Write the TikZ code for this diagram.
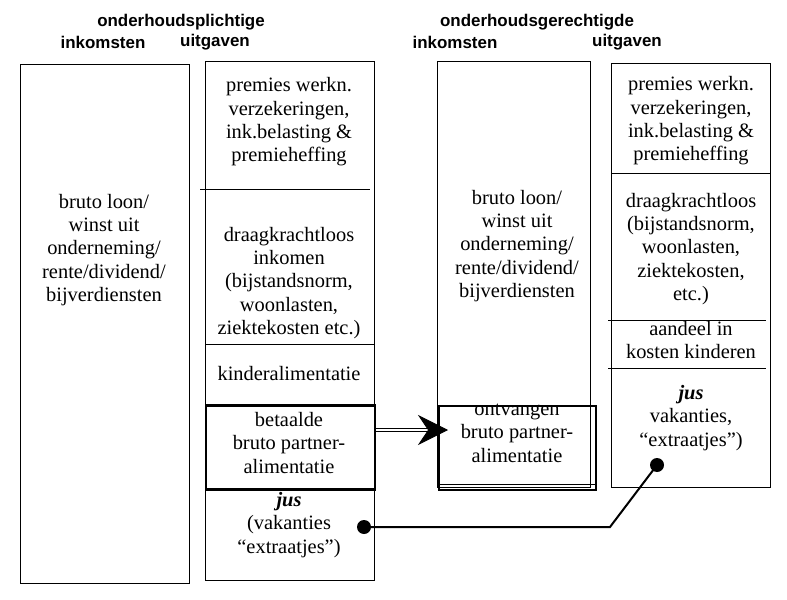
\documentclass[tikz,border=0pt]{standalone}
\usepackage{fontspec}
\setmainfont{Liberation Serif}
\setsansfont{Liberation Sans}
\usetikzlibrary{arrows.meta}

\begin{document}
\begin{tikzpicture}[x=1bp,y=-1bp,line width=1bp,
    txt/.style={align=center,inner sep=0pt,font=\fontsize{20.5}{23.5}\selectfont},
    kop/.style={inner sep=0pt,font=\sffamily\bfseries\fontsize{17}{19}\selectfont},
    dot/.style={circle,fill=black,inner sep=0pt,minimum size=14bp}]
  \useasboundingbox (0,0) rectangle (787,600);
  % kopjes
  \node[kop] (H1) at (181,22) {onderhoudsplichtige};
  \node[kop] (H2) at (103,42) {inkomsten};
  \node[kop] (H3) at (215,42) {uitgaven};
  \node[kop] (H4) at (537,22) {onderhoudsgerechtigde};
  \node[kop] (H5) at (455,42) {inkomsten};
  \node[kop] (H6) at (627,42) {uitgaven};
  % kolommen
  \draw (20,65) rectangle (189,583);
  \draw (205,62) rectangle (374,580);
  \draw (437,62) rectangle (590,487);
  \draw (611,64) rectangle (770,487);
  \draw (200,190) -- (370,190);
  \draw (205,344) -- (374,344);
  \draw (612,174) -- (770,174);
  \draw (608,320) -- (766,320);
  \draw (608,368) -- (766,368);
  % onderhoudsplichtige
  \node[txt] (A1) at (104,250) {bruto loon/\\winst uit\\onderneming/\\rente/dividend/\\bijverdiensten};
  \node[txt] (A2) at (289,122) {premies werkn.\\verzekeringen,\\ink.belasting \&\\premieheffing};
  \node[txt] (A3) at (289,283) {draagkrachtloos\\inkomen\\(bijstandsnorm,\\woonlasten,\\ziektekosten etc.)};
  \node[txt] (A4) at (289,374) {kinderalimentatie};
  \node[txt] (A5) at (289,443) {betaalde\\bruto partner-\\alimentatie};
  \node[txt] (A6) at (289,525) {\textbf{\textit{jus}}\\(vakanties\\``extraatjes'')};
  \node[draw,line width=2.2bp,minimum width=169bp,minimum height=84bp,inner sep=0pt] (B) at (290.5,447.5) {};
  % onderhoudsgerechtigde
  \node[txt] (C1) at (517,246) {bruto loon/\\winst uit\\onderneming/\\rente/dividend/\\bijverdiensten};
  \node[txt] (C2) at (517,433) {ontvangen\\bruto partner-\\alimentatie};
  \node[draw,line width=2bp,minimum width=157bp,minimum height=84bp,inner sep=0pt] (O) at (517,447.5) {};
  \draw (438,484) -- (596,484);
  \node[txt] (D1) at (691,121) {premies werkn.\\verzekeringen,\\ink.belasting \&\\premieheffing};
  \node[txt] (D2) at (691,249) {draagkrachtloos\\(bijstandsnorm,\\woonlasten,\\ziektekosten,\\etc.)};
  \node[txt] (D3) at (691,340) {aandeel in\\kosten kinderen};
  \node[txt] (D4) at (691,418) {\textbf{\textit{jus}}\\vakanties,\\``extraatjes'')};
  % verbindingen
  \coordinate (P) at (448,430);
  \draw[double,double distance=2.5bp,line width=0.8bp,-{Stealth[length=30bp,width=30bp,inset=10bp]}] (B.east |- P) -- (P);
  \node[dot] (J1) at (364,527) {};
  \node[dot] (J2) at (657,465) {};
  \coordinate (K) at (610,527);
  \draw[line width=2bp] (J1.center) -- (K) -- (J2.center);
\end{tikzpicture}
\end{document}
